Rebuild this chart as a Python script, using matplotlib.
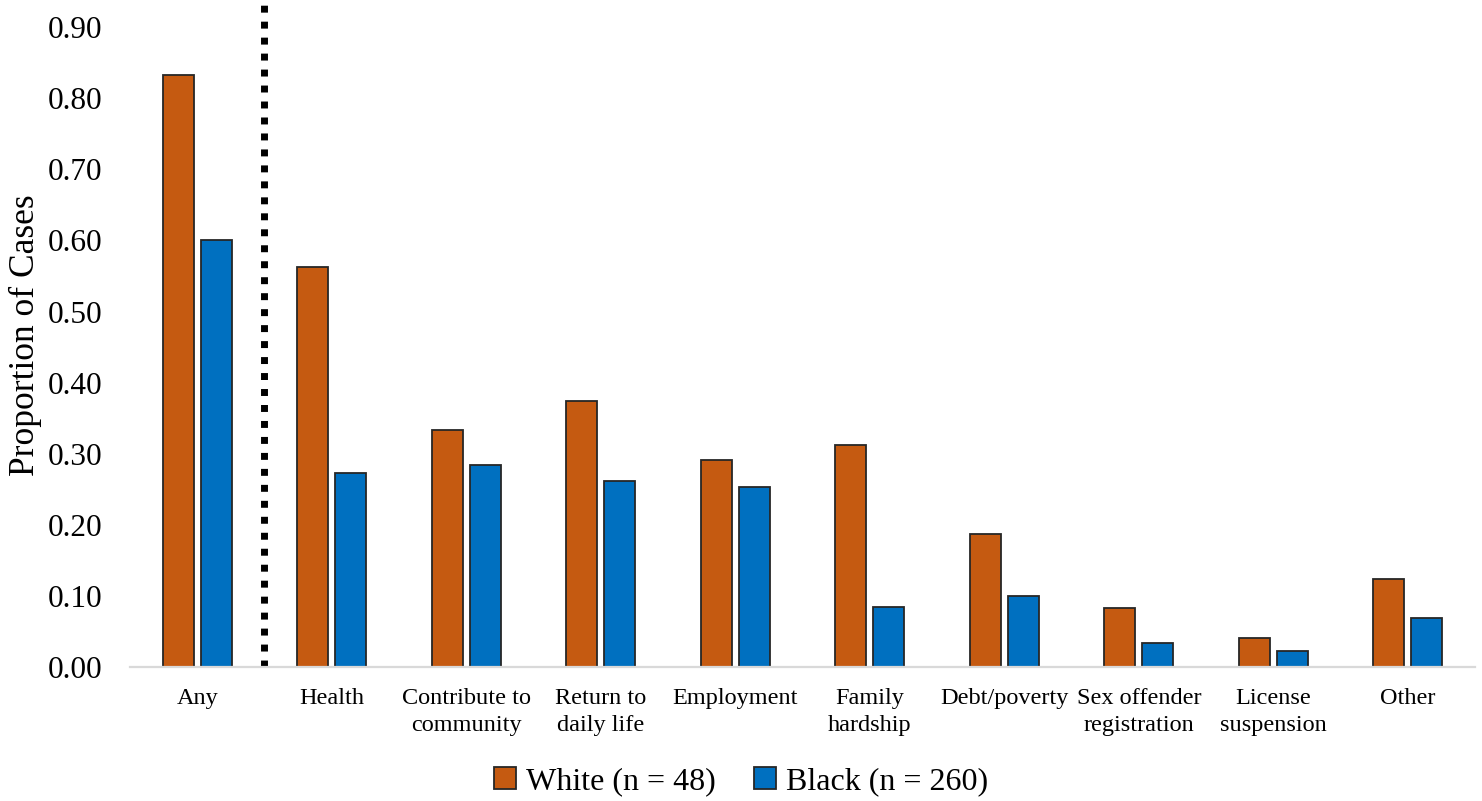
import numpy as np
import matplotlib.pyplot as plt
from matplotlib.patches import Patch

# Proportion of cases citing each consideration, by defendant race
categories = [
    "Any", "Health", "Contribute to\ncommunity", "Return to\ndaily life",
    "Employment", "Family\nhardship", "Debt/poverty",
    "Sex offender\nregistration", "License\nsuspension", "Other",
]
white = [0.833, 0.5625, 0.333, 0.375, 0.292, 0.3125, 0.1875, 0.083, 0.042, 0.125]
black = [0.600, 0.273, 0.285, 0.262, 0.254, 0.085, 0.100, 0.035, 0.023, 0.069]
yticks = [0.0, 0.1, 0.2, 0.3, 0.4, 0.5, 0.6, 0.7, 0.8, 0.9]

WHITE_COLOR = "#C55A11"
BLACK_COLOR = "#0070C0"
EDGE = "#262626"

plt.rcParams["font.family"] = ["Liberation Serif", "DejaVu Serif"]

fig = plt.figure(figsize=(14.82, 8.01), dpi=100)
ax = fig.add_axes([0.0877, 0.1667, 0.9076, 0.8308])

x = np.arange(len(categories))
width = 0.2305
offset = 0.1413

ax.bar(x - offset, white, width, color=WHITE_COLOR, edgecolor=EDGE, linewidth=1.3,
       label="White (n = 48)")
ax.bar(x + offset, black, width, color=BLACK_COLOR, edgecolor=EDGE, linewidth=1.3,
       label="Black (n = 260)")

# separator between the overall measure and the individual reasons
ax.axvline(0.5, ymin=0, ymax=0.995, color="black", linewidth=5,
           linestyle=(0, (1.0, 1.3)), dash_capstyle="butt")

ax.set_xlim(-0.5, len(categories) - 0.5)
ax.set_ylim(0, 0.935)
ax.set_yticks(yticks)
ax.set_yticklabels([f"{v:.2f}" for v in yticks], fontsize=22.5)
ax.set_xticks(x)
ax.set_xticklabels(categories, fontsize=17.5, linespacing=1.35)
ax.tick_params(axis="y", length=0, pad=20)
ax.tick_params(axis="x", length=0, pad=15)
ax.set_ylabel("Proportion of Cases", fontsize=25.5, labelpad=4)

for side in ["top", "right", "left"]:
    ax.spines[side].set_visible(False)
ax.spines["bottom"].set_color("#D9D9D9")
ax.spines["bottom"].set_linewidth(1.6)

handles = [
    Patch(facecolor=WHITE_COLOR, edgecolor=EDGE, linewidth=1.3, label="White (n = 48)"),
    Patch(facecolor=BLACK_COLOR, edgecolor=EDGE, linewidth=1.3, label="Black (n = 260)"),
]
fig.legend(handles=handles, loc="center", bbox_to_anchor=(0.5, 0.024), ncol=2,
           frameon=False, fontsize=23, handlelength=0.7, handleheight=0.7,
           handletextpad=0.3, columnspacing=1.2, borderaxespad=0)

fig.savefig("out.png", dpi=100)
